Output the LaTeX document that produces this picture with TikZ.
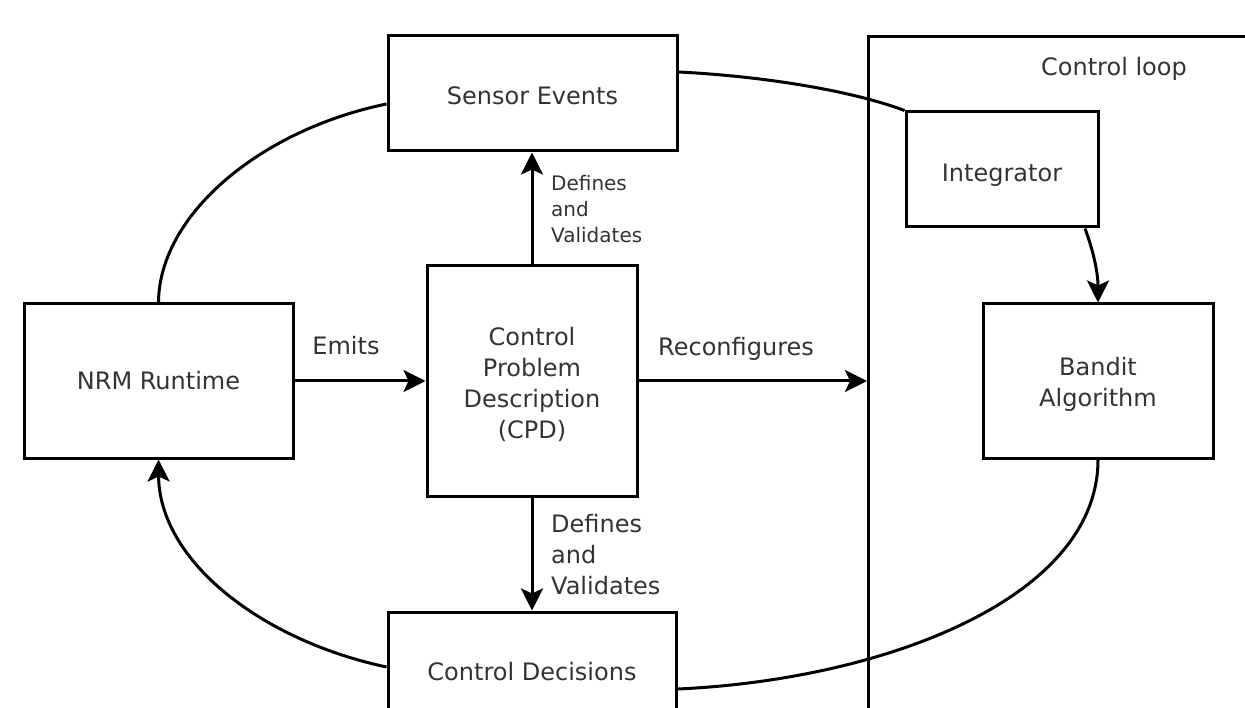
\documentclass[tikz,border=0pt]{standalone}
\usepackage{fontspec}
\setmainfont{DejaVu Sans}
\usetikzlibrary{arrows.meta}
\newcommand{\lift}[1]{\rule{0pt}{#1}}
\begin{document}
\begin{tikzpicture}[x=1pt,y=-1pt,
  box/.style={draw, line width=3pt, inner sep=0pt, align=center, text=black!80,
    font=\fontsize{24}{31}\selectfont},
  lbl/.style={inner sep=0pt, align=left, text=black!80, font=\fontsize{24}{31}\selectfont},
  smalllbl/.style={lbl, font=\fontsize{20}{26}\selectfont},
  conn/.style={line width=3pt},
  arr/.style={conn, -{Stealth[length=22pt,width=22pt,inset=5pt]}}]
\useasboundingbox (0,0) rectangle (1245,708);
\clip (0,0) rectangle (1245,708);
% nodes
\node[box, minimum width=269pt, minimum height=154pt] (nrm) at (158.5,381) {NRM Runtime};
\node[box, minimum width=289pt, minimum height=115pt] (sensor) at (532.5,93.5) {\lift{22pt}Sensor Events};
\node[box, minimum width=210pt, minimum height=230pt] (cpd) at (532,381) {\lift{26pt}Control\\Problem\\Description\\(CPD)};
\node[box, minimum width=288pt, minimum height=118pt] (dec) at (532,671) {\lift{20pt}Control Decisions};
\node[box, minimum width=500pt, minimum height=760pt, anchor=north west] (loop) at (867,35) {};
\node[lbl] (looplbl) at (1114,69) {Control loop};
\node[box, minimum width=192pt, minimum height=115pt] (integ) at (1002,169.5) {\lift{28pt}Integrator};
\node[box, minimum width=230pt, minimum height=154pt] (bandit) at (1098,381) {\lift{24pt}Bandit\\Algorithm};
% labels
\node[lbl, anchor=base] (emits) at (346,355) {Emits};
\node[lbl, anchor=base] (reconf) at (736,356) {Reconfigures};
\node[smalllbl, anchor=north west] (dv1) at (551,175) {Defines\\and\\Validates};
\node[lbl, anchor=north west] (dv2) at (551,514) {Defines\\and\\Validates};
% straight arrows
\draw[arr] (nrm.east) -- (cpd.west);
\draw[arr] (cpd.east) -- (cpd.east -| loop.west);
\draw[arr] (cpd.north) -- (cpd.north |- sensor.south);
\draw[arr] (cpd.south) -- (cpd.south |- dec.north);
% curves
\draw[conn] (nrm.north) .. controls (159,215) and (260,130) .. (sensor.west |- 0,104);
\draw[arr] (dec.west |- 0,667) .. controls (260,640) and (159,560) .. (nrm.south);
\draw[conn] (sensor.east |- 0,72) .. controls (760,76) and (850,90) .. (integ.north west);
\draw[arr] (integ.south -| 1085,0) .. controls (1093,250) and (1098,272) .. (bandit.north);
\draw[conn] (bandit.south) .. controls (1098,600) and (880,680) .. (dec.east |- 0,689);
\end{tikzpicture}
\end{document}
